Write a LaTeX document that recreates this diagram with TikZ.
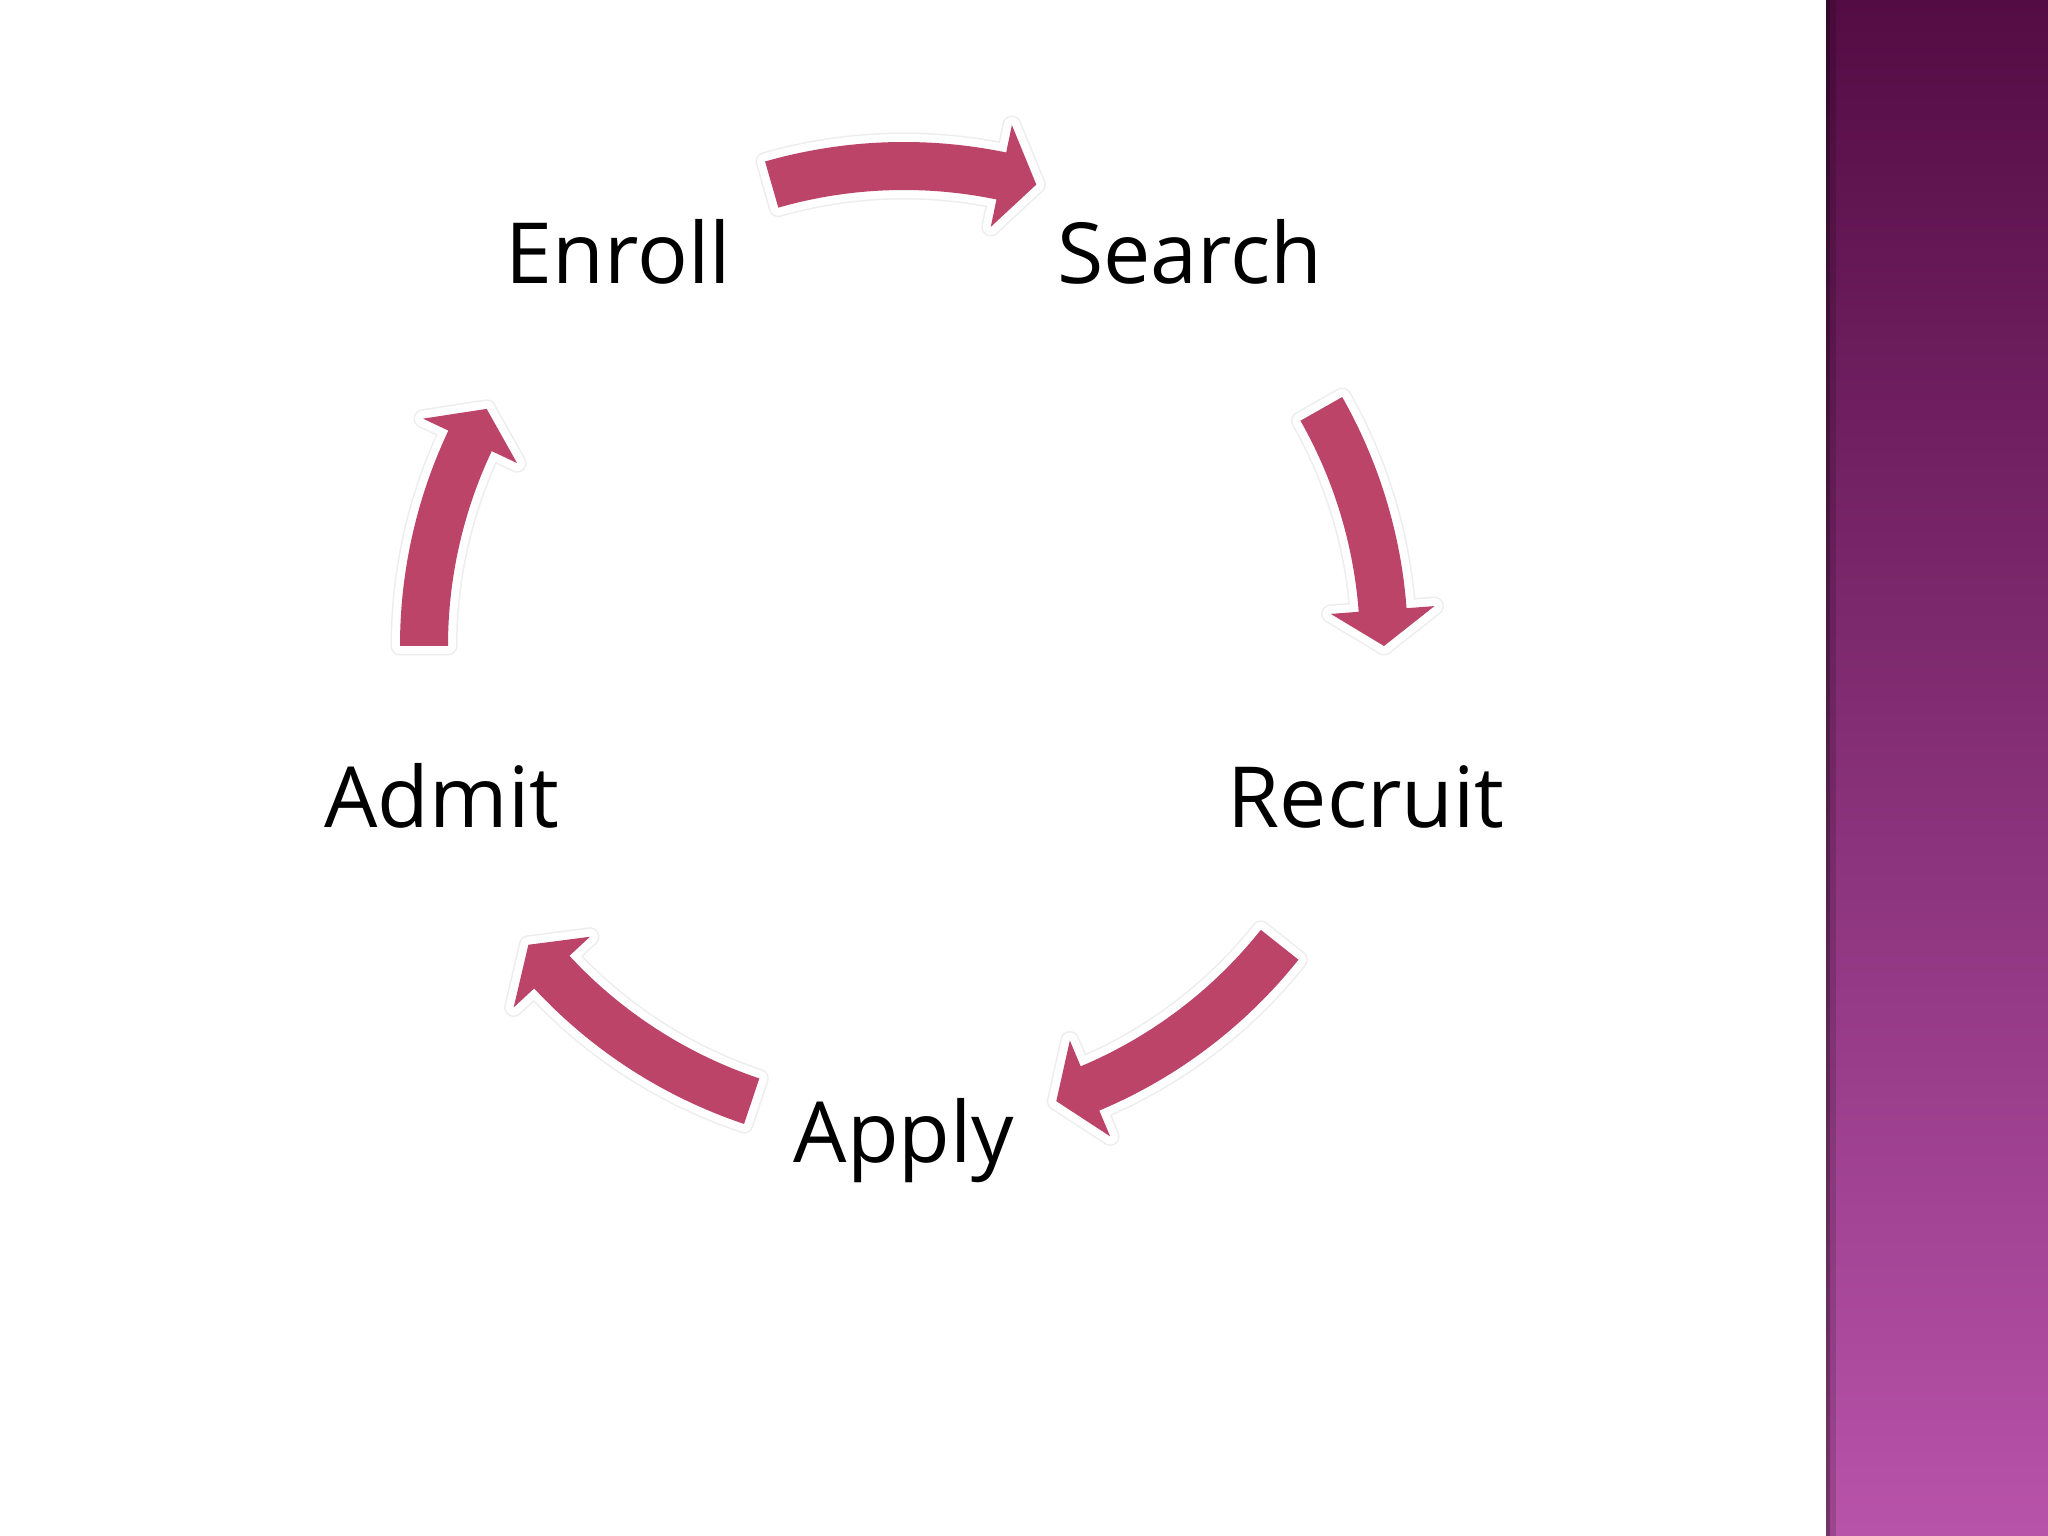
\documentclass[tikz,border=0pt]{standalone}
\usepackage{fontspec}
\setmainfont{Open Sans}
\usepackage{xcolor}
\usetikzlibrary{calc}

\definecolor{cyclepink}{HTML}{BB4468}
\definecolor{bandtop}{HTML}{540C44}
\definecolor{bandbot}{HTML}{B853AA}

\begin{document}
\begin{tikzpicture}[
    cyclearrow/.style={fill=cyclepink,
        preaction={draw=black!7, line width=1.9mm, line join=round},
        preaction={draw=white, line width=1.6mm, line join=round}},
    steplabel/.style={font=\fontsize{24}{28}\selectfont, anchor=base, inner sep=0pt}
]

% Canvas
\useasboundingbox (0,0) rectangle (20.48,15.36);
\fill[white] (0,0) rectangle (18.26,15.36);

% Side band
\shade[top color=bandtop, bottom color=bandbot] (18.26,0) rectangle (20.48,15.36);
\fill[black, opacity=0.15] (18.26,0) rectangle (18.36,15.36);
\fill[black, opacity=0.25] (18.26,0) rectangle (18.30,15.36);

% Cycle centre
\coordinate (c) at (9.04,8.90);

% Stage labels
\foreach \name/\ang/\txt in {enroll/126/Enroll, search/54/Search, recruit/-18/Recruit, apply/-90/Apply, admit/198/Admit} {
    \node[steplabel] (\name) at ($(c)+(\ang:4.86)+(0,-0.31)$) {\txt};
}

% Curved arrows (clockwise)
\foreach \a/\b in {106/74, 29.6/0, -38.5/-71.5, -108.5/-141.5, 180/150.4} {
    \pgfmathsetmacro{\h}{\b+4.3}
    \fill[cyclearrow, shift={(c)}] (\a:5.04) arc[start angle=\a, end angle=\h, radius=5.04]
        -- (\h:5.32) -- (\b:4.80) -- (\h:4.28) -- (\h:4.56)
        arc[start angle=\h, end angle=\a, radius=4.56] -- cycle;
}

\end{tikzpicture}
\end{document}
